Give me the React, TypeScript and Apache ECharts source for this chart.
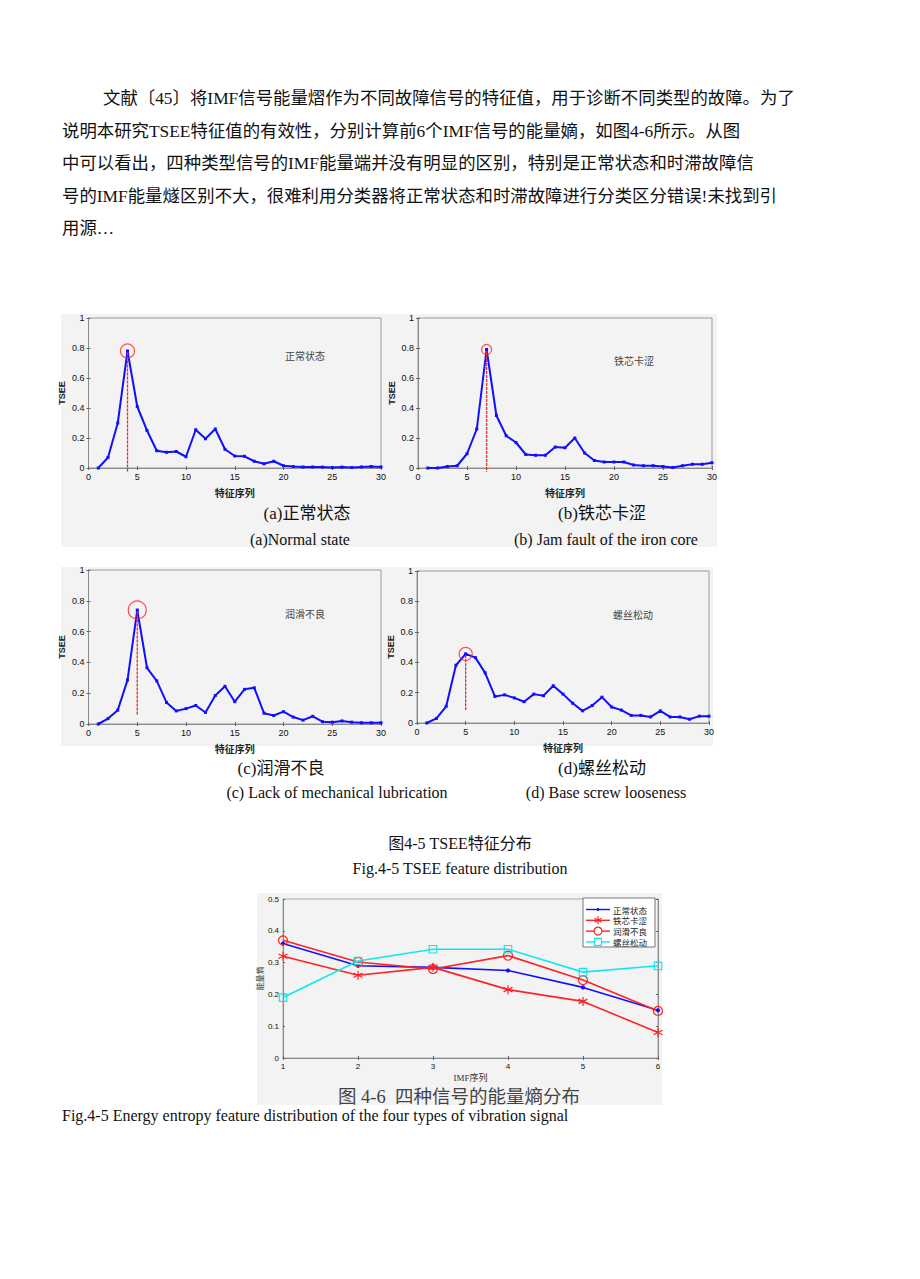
import { useEffect, useRef } from "react";
import * as echarts from "echarts";

// ---------- data ----------
const featureIndex = [1, 2, 3, 4, 5, 6, 7, 8, 9, 10, 11, 12, 13, 14, 15, 16, 17, 18, 19, 20, 21, 22, 23, 24, 25, 26, 27, 28, 29, 30];
const tseeNormal = [0, 0.07, 0.3, 0.78, 0.41, 0.25, 0.115, 0.105, 0.11, 0.075, 0.255, 0.195, 0.26, 0.125, 0.08, 0.078, 0.045, 0.028, 0.045, 0.015, 0.01, 0.007, 0.007, 0.006, 0.003, 0.006, 0.003, 0.007, 0.01, 0.007];
const tseeIronJam = [0, 0, 0.01, 0.015, 0.095, 0.26, 0.79, 0.35, 0.215, 0.17, 0.09, 0.085, 0.085, 0.14, 0.135, 0.2, 0.1, 0.05, 0.04, 0.04, 0.04, 0.02, 0.015, 0.015, 0.01, 0.003, 0.015, 0.025, 0.025, 0.035];
const tseeLubrication = [0, 0.035, 0.09, 0.285, 0.74, 0.365, 0.28, 0.14, 0.085, 0.1, 0.12, 0.075, 0.185, 0.245, 0.145, 0.225, 0.235, 0.07, 0.055, 0.08, 0.045, 0.025, 0.05, 0.015, 0.012, 0.02, 0.012, 0.008, 0.008, 0.008];
const tseeScrewLoose = [0, 0.03, 0.11, 0.38, 0.455, 0.43, 0.33, 0.175, 0.185, 0.165, 0.14, 0.19, 0.18, 0.245, 0.19, 0.13, 0.08, 0.115, 0.17, 0.105, 0.085, 0.05, 0.05, 0.04, 0.08, 0.04, 0.04, 0.025, 0.045, 0.045];

// peak markers: [x, y, bottom of dashed line]
const peakNormal = [4, 0.78, -0.025];
const peakIronJam = [7, 0.79, -0.025];
const peakLubrication = [5, 0.74, 0.06];
const peakScrewLoose = [5, 0.455, 0.085];

const panelLabels = ["正常状态", "铁芯卡涩", "润滑不良", "螺丝松动"];

const imfIndex = [1, 2, 3, 4, 5, 6];
const entropyNormal = [0.36, 0.29, 0.285, 0.275, 0.222, 0.15];
const entropyIronJam = [0.32, 0.26, 0.285, 0.215, 0.178, 0.08];
const entropyLubrication = [0.37, 0.302, 0.28, 0.322, 0.245, 0.148];
const entropyScrewLoose = [0.19, 0.305, 0.342, 0.342, 0.27, 0.29];
const entropyNames = ["正常状态", "铁芯卡涩", "润滑不良", "螺丝松动"];

const paragraph = [
  "文献〔45〕将IMF信号能量熠作为不同故障信号的特征值，用于诊断不同类型的故障。为了",
  "说明本研究TSEE特征值的有效性，分别计算前6个IMF信号的能量嫡，如图4-6所示。从图",
  "中可以看出，四种类型信号的IMF能量端并没有明显的区别，特别是正常状态和时滞故障信",
  "号的IMF能量燧区别不大，很难利用分类器将正常状态和时滞故障进行分类区分错误!未找到引",
  "用源…",
];

// ---------- styling ----------
const SERIF = "'Liberation Serif', 'Noto Sans CJK SC', serif";
const SANS = "'Liberation Sans', Arial, 'Noto Sans CJK SC', sans-serif";
const CJK = "'Noto Sans CJK SC', sans-serif";
const BLUE = "#1010ff";
const RED = "#ff2222";
const CYAN = "#10e8ee";
const PANEL_BG = "#f3f3f3";

const panels = [
  { grid: { left: 88.5, top: 318, width: 292.5, height: 150 }, data: tseeNormal, peak: peakNormal, circle: 14, label: { x: 305, y: 355 } },
  { grid: { left: 418, top: 318, width: 294, height: 150 }, data: tseeIronJam, peak: peakIronJam, circle: 10, label: { x: 634, y: 360 } },
  { grid: { left: 88.5, top: 570, width: 292.5, height: 154 }, data: tseeLubrication, peak: peakLubrication, circle: 18, label: { x: 305, y: 613 } },
  { grid: { left: 417, top: 571, width: 292, height: 152 }, data: tseeScrewLoose, peak: peakScrewLoose, circle: 13, label: { x: 633, y: 614 } },
];

function axisPair(gridIndex: number, opts: any) {
  const common = {
    gridIndex,
    axisLine: { show: true, lineStyle: { color: "#8a8a8a", width: 1 } },
    splitLine: { show: false },
  };
  return [
    {
      ...common,
      ...opts.main,
      axisTick: { show: true, inside: true, length: 2, lineStyle: { color: "#666" } },
      axisLabel: { color: "#111", fontSize: opts.labelSize, fontFamily: SANS, margin: 4 },
    },
    {
      ...common,
      ...opts.mirror,
      axisTick: { show: true, inside: true, length: 2, lineStyle: { color: "#666" } },
      axisLabel: { show: false },
    },
  ];
}

function buildOption() {
  const grids: any[] = [];
  const xAxes: any[] = [];
  const yAxes: any[] = [];
  const series: any[] = [];
  const graphics: any[] = [];

  // backgrounds
  graphics.push({ type: "rect", shape: { x: 61, y: 314, width: 656, height: 233 }, style: { fill: PANEL_BG }, z: -10 });
  graphics.push({ type: "rect", shape: { x: 61, y: 567, width: 652, height: 179 }, style: { fill: PANEL_BG }, z: -10 });
  graphics.push({ type: "rect", shape: { x: 257, y: 893, width: 405, height: 212 }, style: { fill: PANEL_BG }, z: -10 });

  panels.forEach((p, i) => {
    grids.push({ ...p.grid, show: true, borderColor: "#999", borderWidth: 1, backgroundColor: "transparent" });
    const xs = axisPair(i, {
      labelSize: 9,
      main: {
        type: "value", position: "bottom", min: 0, max: 30, interval: 5,
        name: "特征序列", nameLocation: "middle", nameGap: 19,
        nameTextStyle: { fontSize: 10, fontFamily: CJK, color: "#222", fontWeight: "bold" },
      },
      mirror: { type: "value", position: "top", min: 0, max: 30, interval: 5 },
    });
    const ys = axisPair(i, {
      labelSize: 9,
      main: {
        type: "value", position: "left", min: 0, max: 1, interval: 0.2,
        name: "TSEE", nameLocation: "middle", nameGap: 22,
        nameTextStyle: { fontSize: 9, fontFamily: SANS, color: "#222", fontWeight: "bold" },
      },
      mirror: { type: "value", position: "right", min: 0, max: 1, interval: 0.2 },
    });
    const xi = xAxes.length;
    const yi = yAxes.length;
    xAxes.push(...xs);
    yAxes.push(...ys);

    series.push({
      type: "line",
      xAxisIndex: xi,
      yAxisIndex: yi,
      data: featureIndex.map((x, k) => [x, p.data[k]]),
      symbol: "rect",
      symbolSize: 3,
      lineStyle: { color: BLUE, width: 2 },
      itemStyle: { color: BLUE },
      z: 3,
    });
    series.push({
      type: "line",
      xAxisIndex: xi,
      yAxisIndex: yi,
      clip: false,
      data: [[p.peak[0], p.peak[1] - 0.01], [p.peak[0], p.peak[2]]],
      symbol: "none",
      lineStyle: { color: RED, width: 1.3, type: [3, 1] },
      z: 4,
    });
    series.push({
      type: "scatter",
      xAxisIndex: xi,
      yAxisIndex: yi,
      data: [[p.peak[0], p.peak[1]]],
      symbol: "circle",
      symbolSize: p.circle,
      itemStyle: { color: "transparent", borderColor: RED, borderWidth: 1.2 },
      z: 5,
    });
    graphics.push({
      type: "text",
      style: { text: panelLabels[i], x: p.label.x, y: p.label.y, fontSize: 10, fontFamily: CJK, fill: "#444", align: "center", verticalAlign: "middle" },
    });
  });

  // bottom chart
  const gi = grids.length;
  grids.push({ left: 283, top: 899, width: 375, height: 159, show: true, borderColor: "#aaa", borderWidth: 1, backgroundColor: "transparent" });
  const bx = xAxes.length;
  const by = yAxes.length;
  xAxes.push(
    ...axisPair(gi, {
      labelSize: 8,
      main: {
        type: "value", position: "bottom", min: 1, max: 6, interval: 1,
        name: "IMF序列", nameLocation: "middle", nameGap: 15,
        nameTextStyle: { fontSize: 9, fontFamily: SERIF, color: "#333" },
      },
      mirror: { type: "value", position: "top", min: 1, max: 6, interval: 1 },
    })
  );
  yAxes.push(
    ...axisPair(gi, {
      labelSize: 8,
      main: {
        type: "value", position: "left", min: 0, max: 0.5, interval: 0.1,
        name: "能量熵", nameLocation: "middle", nameGap: 20,
        nameTextStyle: { fontSize: 8, fontFamily: CJK, color: "#333" },
      },
      mirror: { type: "value", position: "right", min: 0, max: 0.5, interval: 0.1 },
    })
  );
  const asterisk = "path://M5,0L5,10M0.7,2.5L9.3,7.5M0.7,7.5L9.3,2.5";
  const entropySeries = [
    { name: entropyNames[0], data: entropyNormal, color: BLUE, symbol: "circle", size: 3, fill: BLUE, width: 1.6 },
    { name: entropyNames[1], data: entropyIronJam, color: RED, symbol: asterisk, size: 9, fill: RED, width: 1.6 },
    { name: entropyNames[2], data: entropyLubrication, color: RED, symbol: "circle", size: 9, fill: "transparent", width: 1.6 },
    { name: entropyNames[3], data: entropyScrewLoose, color: CYAN, symbol: "rect", size: 7.5, fill: "transparent", width: 1.6 },
  ];
  entropySeries.forEach((s) => {
    series.push({
      type: "line",
      name: s.name,
      xAxisIndex: bx,
      yAxisIndex: by,
      data: imfIndex.map((x, k) => [x, s.data[k]]),
      symbol: s.symbol,
      symbolSize: s.size,
      showAllSymbol: true,
      clip: false,
      lineStyle: { color: s.color, width: s.width },
      itemStyle: { color: s.fill, borderColor: s.color, borderWidth: 1.2 },
    });
  });

  // legend box (drawn as graphic for exact MATLAB look)
  const lgX = 583, lgY = 898, lgW = 72, lgH = 49;
  graphics.push({ type: "rect", shape: { x: lgX, y: lgY, width: lgW, height: lgH }, style: { fill: "#ffffff", stroke: "#555", lineWidth: 0.8 }, z: 20 });
  entropySeries.forEach((s, i) => {
    const cy = lgY + 11.5 + i * 10.8;
    const x1 = lgX + 3, x2 = lgX + 27, mx = lgX + 15;
    graphics.push({ type: "line", shape: { x1, y1: cy, x2, y2: cy }, style: { stroke: s.color, lineWidth: 1.4 }, z: 21 });
    if (i === 0) {
      graphics.push({ type: "circle", shape: { cx: mx, cy, r: 1.5 }, style: { fill: BLUE }, z: 22 });
    } else if (i === 1) {
      const r = 4;
      graphics.push({ type: "line", shape: { x1: mx, y1: cy - r, x2: mx, y2: cy + r }, style: { stroke: RED, lineWidth: 1.2 }, z: 22 });
      graphics.push({ type: "line", shape: { x1: mx - 3.5, y1: cy - 2, x2: mx + 3.5, y2: cy + 2 }, style: { stroke: RED, lineWidth: 1.2 }, z: 22 });
      graphics.push({ type: "line", shape: { x1: mx - 3.5, y1: cy + 2, x2: mx + 3.5, y2: cy - 2 }, style: { stroke: RED, lineWidth: 1.2 }, z: 22 });
    } else if (i === 2) {
      graphics.push({ type: "circle", shape: { cx: mx, cy, r: 4 }, style: { fill: "#fff", stroke: RED, lineWidth: 1.2 }, z: 22 });
    } else {
      graphics.push({ type: "rect", shape: { x: mx - 3.5, y: cy - 3.5, width: 7, height: 7 }, style: { fill: "#fff", stroke: CYAN, lineWidth: 1.2 }, z: 22 });
    }
    graphics.push({
      type: "text",
      style: { text: s.name, x: lgX + 30, y: cy, fontSize: 8.5, lineHeight: 10, fontFamily: CJK, fill: "#222", verticalAlign: "middle" },
      z: 22,
    });
  });

  // text
  paragraph.forEach((line, i) => {
    graphics.push({
      type: "text",
      style: { text: line, x: i === 0 ? 103 : 62, y: 98 + i * 32.6, fontSize: 17.4, fontFamily: SERIF, fill: "#111", verticalAlign: "middle" },
    });
  });
  const captions = [
    { t: "(a)正常状态", x: 307, y: 513, s: 17 },
    { t: "(a)Normal state", x: 300, y: 539, s: 16 },
    { t: "(b)铁芯卡涩", x: 602, y: 513, s: 17 },
    { t: "(b) Jam fault of the iron core", x: 606, y: 539, s: 16 },
    { t: "(c)润滑不良", x: 281, y: 768, s: 17 },
    { t: "(c) Lack of mechanical lubrication", x: 337, y: 792, s: 16 },
    { t: "(d)螺丝松动", x: 602, y: 768, s: 17 },
    { t: "(d) Base screw looseness", x: 606, y: 792, s: 16 },
    { t: "图4-5 TSEE特征分布", x: 460, y: 843, s: 16 },
    { t: "Fig.4-5 TSEE feature distribution", x: 460, y: 868, s: 16 },
    { t: "图 4-6  四种信号的能量熵分布", x: 459, y: 1097, s: 18.5, c: "#444" },
  ];
  captions.forEach((c: any) => {
    graphics.push({
      type: "text",
      style: { text: c.t, x: c.x, y: c.y, fontSize: c.s, fontFamily: SERIF, fill: c.c || "#111", align: "center", verticalAlign: "middle" },
    });
  });
  graphics.push({
    type: "text",
    style: { text: "Fig.4-5 Energy entropy feature distribution of the four types of vibration signal", x: 62, y: 1115, fontSize: 16, fontFamily: SERIF, fill: "#111", verticalAlign: "middle" },
  });

  return {
    animation: false,
    backgroundColor: "#ffffff",
    grid: grids,
    xAxis: xAxes,
    yAxis: yAxes,
    series,
    graphic: graphics,
  };
}

export default function App() {
  const ref = useRef<HTMLDivElement>(null);
  useEffect(() => {
    if (!ref.current) return;
    const chart = echarts.init(ref.current, undefined, { renderer: "svg" });
    chart.setOption(buildOption() as any);
    return () => chart.dispose();
  }, []);
  return <div ref={ref} style={{ position: "absolute", left: 0, top: 0, width: 920, height: 1279 }} />;
}
